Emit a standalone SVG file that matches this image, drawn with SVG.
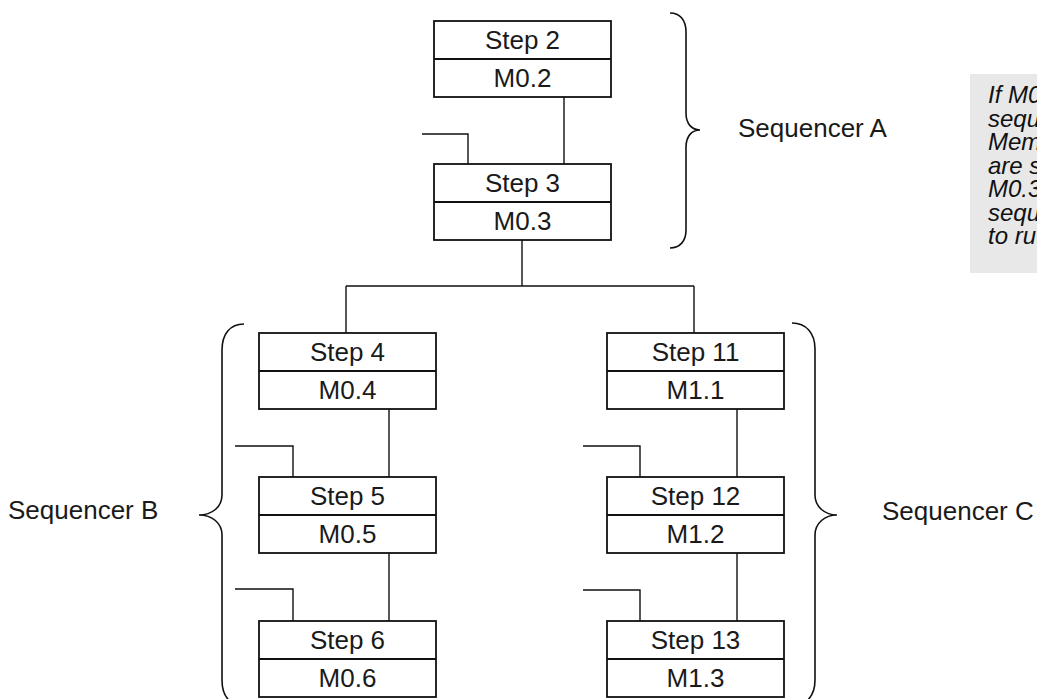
<svg xmlns="http://www.w3.org/2000/svg" width="1037" height="699" viewBox="0 0 1037 699">
<style>
  .box{fill:#fff;stroke:#111;stroke-width:1.8}
  .div{stroke:#111;stroke-width:1.8}
  .t{font-family:"Liberation Sans",Arial,sans-serif;font-size:26px;fill:#1a1a1a}
  .c{text-anchor:middle}
  .ln{fill:none;stroke:#111;stroke-width:1.4}
  .br{fill:none;stroke:#111;stroke-width:1.6}
  .note{font-family:"Liberation Sans",Arial,sans-serif;font-size:24px;font-style:italic;fill:#111}
</style>
<rect x="0" y="0" width="1037" height="699" fill="#fff"/>

<g id="connectors">
  <path class="ln" d="M564,97 V164"/>
  <path class="ln" d="M422,134 H468 V164"/>
  <path class="ln" d="M522,240 V286"/>
  <path class="ln" d="M346,286 H694"/>
  <path class="ln" d="M346,286 V333"/>
  <path class="ln" d="M694,286 V333"/>
  <path class="ln" d="M389,409 V477"/>
  <path class="ln" d="M389,553 V621"/>
  <path class="ln" d="M235,446 H293 V477"/>
  <path class="ln" d="M235,589 H293 V621"/>
  <path class="ln" d="M737,409 V477"/>
  <path class="ln" d="M737,553 V621"/>
  <path class="ln" d="M583,446 H640 V477"/>
  <path class="ln" d="M583,590 H640 V621"/>
</g>

<g id="step2">
  <rect class="box" x="434" y="21" width="177" height="76"/>
  <line class="div" x1="434" y1="59" x2="611" y2="59"/>
  <text class="t c" x="522.5" y="48.5">Step 2</text>
  <text class="t c" x="522.5" y="87">M0.2</text>
</g>
<g id="step3">
  <rect class="box" x="434" y="164" width="177" height="76"/>
  <line class="div" x1="434" y1="202" x2="611" y2="202"/>
  <text class="t c" x="522.5" y="191.5">Step 3</text>
  <text class="t c" x="522.5" y="230">M0.3</text>
</g>
<g id="step4">
  <rect class="box" x="259" y="333" width="177" height="76"/>
  <line class="div" x1="259" y1="371" x2="436" y2="371"/>
  <text class="t c" x="347.5" y="360.5">Step 4</text>
  <text class="t c" x="347.5" y="399">M0.4</text>
</g>
<g id="step5">
  <rect class="box" x="259" y="477" width="177" height="76"/>
  <line class="div" x1="259" y1="515" x2="436" y2="515"/>
  <text class="t c" x="347.5" y="504.5">Step 5</text>
  <text class="t c" x="347.5" y="543">M0.5</text>
</g>
<g id="step6">
  <rect class="box" x="259" y="621" width="177" height="76"/>
  <line class="div" x1="259" y1="659" x2="436" y2="659"/>
  <text class="t c" x="347.5" y="648.5">Step 6</text>
  <text class="t c" x="347.5" y="687">M0.6</text>
</g>
<g id="step11">
  <rect class="box" x="607" y="333" width="177" height="76"/>
  <line class="div" x1="607" y1="371" x2="784" y2="371"/>
  <text class="t c" x="695.5" y="360.5">Step 11</text>
  <text class="t c" x="695.5" y="399">M1.1</text>
</g>
<g id="step12">
  <rect class="box" x="607" y="477" width="177" height="76"/>
  <line class="div" x1="607" y1="515" x2="784" y2="515"/>
  <text class="t c" x="695.5" y="504.5">Step 12</text>
  <text class="t c" x="695.5" y="543">M1.2</text>
</g>
<g id="step13">
  <rect class="box" x="607" y="621" width="177" height="76"/>
  <line class="div" x1="607" y1="659" x2="784" y2="659"/>
  <text class="t c" x="695.5" y="648.5">Step 13</text>
  <text class="t c" x="695.5" y="687">M1.3</text>
</g>

<g id="sequencerA">
  <path class="br" d="M670,13 C680,13 686,20 686,32 V113 C686,124 692,130 700,130 C692,130 686,136 686,147 V230 C686,241 680,248 670,248"/>
  <text class="t" x="738" y="137">Sequencer A</text>
</g>
<g id="sequencerB">
  <path class="br" d="M244,324 C230,324 222,334 222,350 V495 C222,507 212,515 199,515 C212,515 222,523 222,535 V680 C222,696 230,706 244,706"/>
  <text class="t" x="8" y="519">Sequencer B</text>
</g>
<g id="sequencerC">
  <path class="br" d="M792,323 C806,323 815,333 815,349 V495 C815,507 825,515 837,515 C825,515 815,523 815,535 V680 C815,696 806,706 792,706"/>
  <text class="t" x="882" y="520">Sequencer C</text>
</g>

<g id="note">
  <rect x="970" y="74" width="80" height="199" fill="#e8e8e8"/>
  <text class="note" x="988" y="103">If M0</text>
  <text class="note" x="988" y="126.5">sequ</text>
  <text class="note" x="988" y="150">Mem</text>
  <text class="note" x="988" y="173.5">are s</text>
  <text class="note" x="988" y="197">M0.3</text>
  <text class="note" x="988" y="220.5">sequ</text>
  <text class="note" x="988" y="244">to ru</text>
</g>
</svg>
